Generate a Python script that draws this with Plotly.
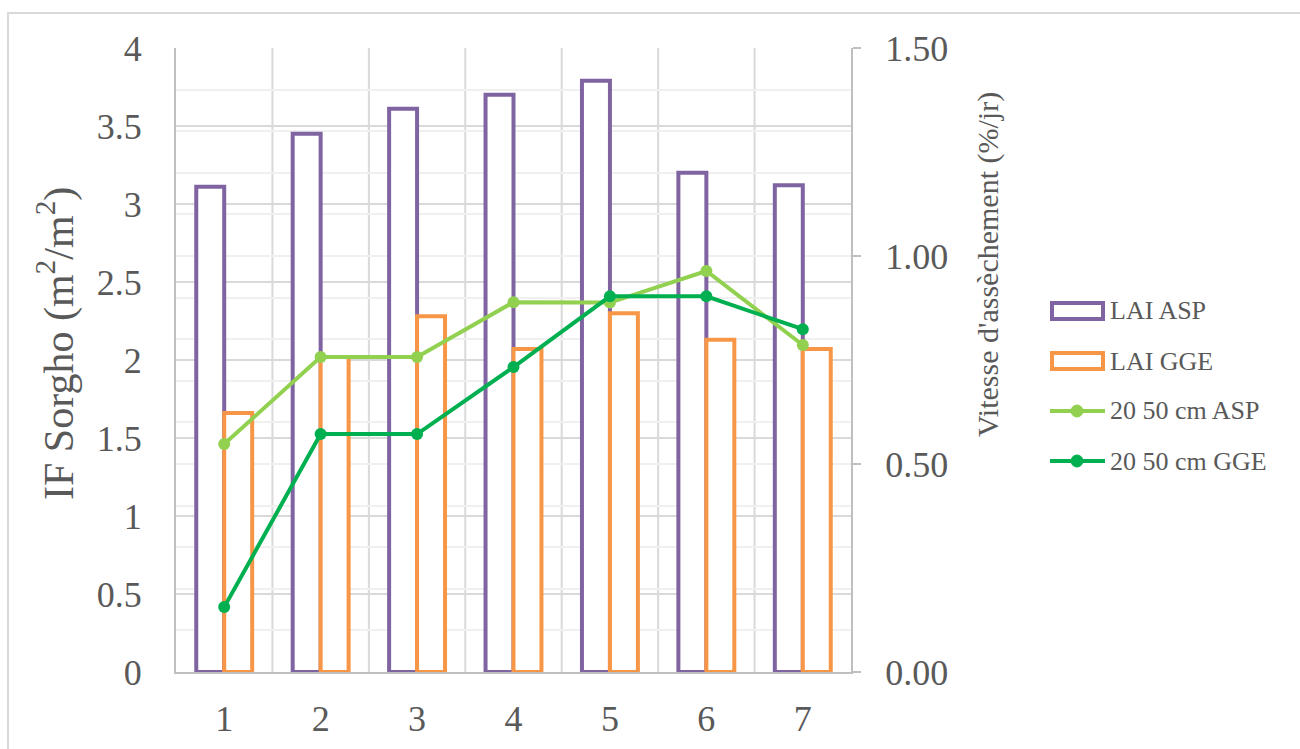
import plotly.graph_objects as go

# Stages (x categories)
stages = [1, 2, 3, 4, 5, 6, 7]

# Leaf area index (left axis, m2/m2)
lai_asp = [3.11, 3.45, 3.61, 3.70, 3.79, 3.20, 3.12]
lai_gge = [1.66, 2.02, 2.28, 2.07, 2.30, 2.13, 2.07]

# Drying rate 20-50 cm (right axis, %/day)
dry_asp = [0.548, 0.757, 0.757, 0.889, 0.888, 0.964, 0.786]
dry_gge = [0.156, 0.572, 0.572, 0.733, 0.903, 0.903, 0.824]

left_ticks = [0, 0.5, 1, 1.5, 2, 2.5, 3, 3.5, 4]
left_labels = ["0", "0.5", "1", "1.5", "2", "2.5", "3", "3.5", "4"]
right_ticks = [0, 0.5, 1.0, 1.5]
right_labels = ["0.00", "0.50", "1.00", "1.50"]

series_names = ["LAI ASP", "LAI GGE", "20 50 cm ASP", "20 50 cm GGE"]
series_colors = ["#8064a2", "#f79646", "#92d050", "#00b050"]

FONT = "Liberation Serif"
TXT = "#595959"
GRID = "#d9d9d9"
AXIS = "#bfbfbf"

# plot area in pixels (used to place frame and legend)
L, R, T, B = 176, 851, 48, 672
PW, PH = R - L, B - T


def px(x):
    return (x - L) / PW


def py(y):
    return (B - y) / PH


fig = go.Figure()

fig.add_trace(go.Bar(
    x=stages, y=lai_asp, name=series_names[0],
    marker=dict(color="white", line=dict(color=series_colors[0], width=4)),
))
fig.add_trace(go.Bar(
    x=stages, y=lai_gge, name=series_names[1],
    marker=dict(color="white", line=dict(color=series_colors[1], width=4)),
))
fig.add_trace(go.Scatter(
    x=stages, y=dry_asp, name=series_names[2], yaxis="y2",
    mode="lines+markers",
    line=dict(color=series_colors[2], width=4),
    marker=dict(color=series_colors[2], size=12),
))
fig.add_trace(go.Scatter(
    x=stages, y=dry_gge, name=series_names[3], yaxis="y2",
    mode="lines+markers",
    line=dict(color=series_colors[3], width=4),
    marker=dict(color=series_colors[3], size=12),
))

# vertical gridlines between categories
for b in [1.5, 2.5, 3.5, 4.5, 5.5, 6.5]:
    fig.add_shape(type="line", xref="x", yref="paper", x0=b, x1=b, y0=0, y1=1,
                  line=dict(color=GRID, width=2), layer="below")

# outer chart frame
fig.add_shape(type="rect", xref="paper", yref="paper",
              x0=px(8), x1=px(1320), y0=py(770), y1=py(13),
              line=dict(color="#d9d9d9", width=2), fillcolor="rgba(0,0,0,0)")

# legend: wide outlined boxes for bars, line+dot for the curves
leg_y = [311, 361, 411, 461]
sx0, sx1 = 1052, 1103
for i, (name, col) in enumerate(zip(series_names, series_colors)):
    yc = leg_y[i]
    if i < 2:
        fig.add_shape(type="rect", xref="paper", yref="paper",
                      x0=px(sx0), x1=px(sx1), y0=py(yc + 8), y1=py(yc - 8),
                      line=dict(color=col, width=4), fillcolor="white")
    else:
        fig.add_shape(type="line", xref="paper", yref="paper",
                      x0=px(1050), x1=px(1105), y0=py(yc), y1=py(yc),
                      line=dict(color=col, width=4))
        fig.add_shape(type="circle", xref="paper", yref="paper",
                      x0=px(1071), x1=px(1083), y0=py(yc + 6), y1=py(yc - 6),
                      line=dict(color=col, width=1), fillcolor=col)
    fig.add_annotation(xref="paper", yref="paper", x=px(1108), y=py(yc),
                       xanchor="left", yanchor="middle", showarrow=False,
                       text=name, font=dict(size=26, color=TXT, family=FONT))

# axis titles
fig.add_annotation(xref="paper", yref="paper", x=px(56), y=py(344),
                   xanchor="center", yanchor="middle", showarrow=False,
                   textangle=-90,
                   text="IF Sorgho (m<sup>2</sup>/m<sup>2</sup>)",
                   font=dict(size=42, color=TXT, family=FONT))
fig.add_annotation(xref="paper", yref="paper", x=px(988), y=py(265),
                   xanchor="center", yanchor="middle", showarrow=False,
                   textangle=-90,
                   text="Vitesse d'assèchement (%/jr)",
                   font=dict(size=30, color=TXT, family=FONT))

fig.update_layout(
    width=1300, height=749,
    margin=dict(l=L, r=1300 - R, t=T, b=749 - B),
    paper_bgcolor="white", plot_bgcolor="white",
    barmode="group", bargap=0.42, bargroupgap=0,
    font=dict(family=FONT, color=TXT),
    showlegend=False,
    xaxis=dict(
        range=[0.5, 7.5], tickvals=stages, ticktext=[str(s) for s in stages],
        tickfont=dict(size=36, color=TXT), showgrid=False,
        showline=True, linecolor=AXIS, linewidth=2, ticks="",
        zeroline=False, ticklabelstandoff=14, automargin=False,
    ),
    yaxis=dict(
        range=[0, 4], tickvals=left_ticks, ticktext=left_labels,
        tickfont=dict(size=36, color=TXT),
        showgrid=True, gridcolor=GRID, gridwidth=2,
        showline=True, linecolor=AXIS, linewidth=2, zeroline=False,
        ticks="", ticklabelstandoff=25, automargin=False,
    ),
    yaxis2=dict(
        range=[0, 1.5], overlaying="y", side="right",
        tickvals=right_ticks, ticktext=right_labels,
        tickfont=dict(size=36, color=TXT),
        showgrid=True, gridcolor="#f0f0f0", gridwidth=2,
        minor=dict(dtick=0.1, showgrid=True, gridcolor="#f0f0f0", gridwidth=2),
        showline=True, linecolor=AXIS, linewidth=2, zeroline=False,
        ticks="outside", ticklen=8, tickcolor=AXIS, tickwidth=2,
        ticklabelstandoff=17, automargin=False,
    ),
)

fig.write_html("out.html")
